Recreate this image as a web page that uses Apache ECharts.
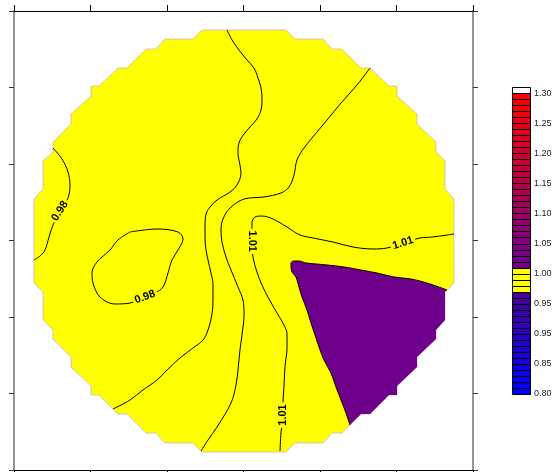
<!DOCTYPE html>
<html>
<head>
<meta charset="utf-8">
<script src="https://cdn.jsdelivr.net/npm/echarts@6/dist/echarts.min.js"></script>
<style>
html,body{margin:0;padding:0;background:#fff;}
#chart{width:555px;height:472px;}
</style>
</head>
<body>
<div id="chart"></div>
<script>
// ---- data (map units: 0..6 on both axes) ----
const boundary = [[2.458,5.752],[3.556,5.752],[3.673,5.634],[4.039,5.634],[4.157,5.503],[4.288,5.503],[4.536,5.255],[4.654,5.255],[4.902,5.020],[5.007,5.020],[5.007,4.889],[5.268,4.654],[5.268,4.523],[5.516,4.288],[5.516,4.157],[5.634,4.039],[5.634,3.673],[5.752,3.542],[5.752,2.444],[5.634,2.327],[5.634,1.961],[5.516,1.830],[5.516,1.712],[5.268,1.477],[5.268,1.346],[5.007,1.098],[5.007,0.980],[4.902,0.980],[4.654,0.732],[4.536,0.732],[4.288,0.484],[4.157,0.484],[4.039,0.353],[3.673,0.353],[3.556,0.235],[2.458,0.235],[2.340,0.353],[1.974,0.353],[1.856,0.484],[1.725,0.484],[1.477,0.732],[1.359,0.732],[1.111,0.980],[1.007,0.980],[1.007,1.098],[0.745,1.346],[0.745,1.477],[0.510,1.712],[0.510,1.830],[0.379,1.961],[0.379,2.327],[0.261,2.444],[0.261,3.542],[0.379,3.673],[0.379,4.039],[0.510,4.157],[0.510,4.288],[0.745,4.523],[0.745,4.654],[1.007,4.889],[1.007,5.020],[1.111,5.020],[1.359,5.255],[1.477,5.255],[1.725,5.503],[1.856,5.503],[1.974,5.634],[2.340,5.634]];

// contour 0.98 (left edge)
const contourA = [[0.510,4.209],[0.627,4.065],[0.706,3.895],[0.732,3.725],[0.706,3.556],[0.601,3.373],[0.510,3.203],[0.458,3.046],[0.405,2.876],[0.340,2.797],[0.261,2.745]];
// contour 0.98 (closed loop)
const contourB = [[1.516,3.111],[1.869,3.150],[2.144,3.111],[2.209,3.020],[2.144,2.876],[2.065,2.745],[2.013,2.575],[1.948,2.392],[1.843,2.314],[1.712,2.261],[1.516,2.183],[1.320,2.170],[1.124,2.261],[1.033,2.444],[1.020,2.575],[1.085,2.719],[1.255,2.876],[1.359,3.007],[1.516,3.111]];
// contour top -> lower left
const contourC = [[2.784,5.752],[2.850,5.621],[2.941,5.490],[3.046,5.359],[3.137,5.255],[3.190,5.124],[3.229,4.993],[3.242,4.863],[3.229,4.706],[3.176,4.588],[3.085,4.484],[3.007,4.392],[2.941,4.275],[2.928,4.144],[2.954,3.987],[2.967,3.882],[2.915,3.725],[2.824,3.634],[2.654,3.529],[2.562,3.438],[2.510,3.346],[2.497,3.190],[2.497,3.033],[2.510,2.876],[2.536,2.745],[2.575,2.575],[2.601,2.431],[2.601,2.222],[2.588,2.039],[2.536,1.830],[2.471,1.699],[2.340,1.595],[2.170,1.464],[2.000,1.307],[1.869,1.176],[1.686,1.046],[1.516,0.915],[1.294,0.797]];
// contour upper right -> bottom
const contourD = [[4.654,5.255],[4.484,5.033],[4.275,4.797],[4.092,4.575],[3.961,4.418],[3.791,4.209],[3.699,4.052],[3.660,3.856],[3.595,3.699],[3.490,3.621],[3.268,3.569],[3.007,3.542],[2.824,3.425],[2.732,3.281],[2.706,3.137],[2.719,2.980],[2.771,2.784],[2.837,2.614],[2.928,2.392],[2.993,2.222],[3.007,2.026],[2.980,1.765],[2.954,1.569],[2.928,1.307],[2.902,1.111],[2.837,0.876],[2.654,0.562],[2.536,0.392],[2.444,0.248]];
// contour 1.01
const contourE = [[5.752,3.085],[5.477,3.046],[5.307,3.033],[5.085,2.967],[4.876,2.902],[4.693,2.889],[4.431,2.915],[4.170,2.980],[3.908,3.033],[3.739,3.072],[3.569,3.176],[3.386,3.281],[3.242,3.320],[3.150,3.307],[3.111,3.229],[3.111,3.137],[3.111,2.980],[3.124,2.784],[3.176,2.588],[3.242,2.418],[3.320,2.261],[3.438,2.052],[3.529,1.895],[3.569,1.778],[3.569,1.608],[3.542,1.346],[3.529,1.085],[3.516,0.876],[3.516,0.719],[3.490,0.484],[3.477,0.248]];
// edge of the region above 1.01
const purpleEdge = [[5.660,2.353],[5.399,2.444],[5.190,2.497],[4.967,2.523],[4.745,2.575],[4.536,2.614],[4.314,2.654],[4.092,2.680],[3.948,2.693],[3.817,2.706],[3.725,2.732],[3.660,2.732],[3.621,2.706],[3.621,2.654],[3.634,2.588],[3.686,2.523],[3.725,2.392],[3.765,2.261],[3.830,2.092],[3.882,1.922],[3.935,1.765],[3.987,1.608],[4.052,1.438],[4.144,1.268],[4.209,1.085],[4.275,0.915],[4.340,0.745],[4.392,0.588]];

const labelPos = [[0.601,3.386],[1.712,2.261],[3.111,2.990],[5.085,2.967],[3.516,0.719]];
const labelText = ['0.98','0.98','1.01','1.01','1.01'];

// colour scale
const cbLevels = [0.80,0.81,0.82,0.83,0.84,0.85,0.86,0.87,0.88,0.89,0.90,0.91,0.92,0.93,0.94,0.95,0.96,0.97,0.98,0.99,1.00,1.01,1.02,1.03,1.04,1.05,1.06,1.07,1.08,1.09,1.10,1.11,1.12,1.13,1.14,1.15,1.16,1.17,1.18,1.19,1.20,1.21,1.22,1.23,1.24,1.25,1.26,1.27,1.28,1.29,1.30,1.31];
const cbTickLabels = ['0.80','0.85','0.95','0.95','1.00','1.05','1.10','1.15','1.20','1.25','1.30'];

// ---- styles ----
const labelAngles = [58, 20, -90, 18, 90];
const cbColors = ['#0000ff','#0400f8','#0900f2','#0d00eb','#1200e5','#1600de','#1b00d8','#1f00d1','#2400cb','#2800c4','#2d00bd','#3100b7','#3600b0','#3a00aa','#3f00a3','#43009d','#480096',
'#ffff00','#ffff00','#ffff00','#ffff00',
'#700090','#75008b','#7a0086','#7f0080','#84007b','#890076','#8f0071','#94006c','#990067','#9e0062','#a3005d','#a80057','#ad0052','#b2004d','#b70048','#bc0043','#c2003e','#c70039','#cc0033','#d1002e','#d60029','#db0024','#e0001f','#e5001a','#ea0015','#ef000f','#f5000a','#fa0005','#ff0000',
'#ffffff'];
const YELLOW = '#ffff00';
const PURPLE = '#6e008c';

const chart = echarts.init(document.getElementById('chart'), null, {renderer:'canvas'});

function polySeries(points, fill, stroke, lw, z){
  return {
    type:'custom', xAxisIndex:0, yAxisIndex:0, z:z, silent:true,
    data:[[0]],
    renderItem:function(params, api){
      return {type:'polygon', shape:{points: points.map(p => api.coord(p))},
              style:{fill: fill, stroke: stroke, lineWidth: lw}};
    }
  };
}
function lineSeries(points, z){
  return {type:'line', xAxisIndex:0, yAxisIndex:0, data: points, symbol:'none', smooth:0.35,
          z:z, silent:true, lineStyle:{color:'#000', width:1}};
}

const purplePoly = purpleEdge.concat(boundary.slice(19,30).reverse());
const cbData = cbLevels.slice(0,-1).map((lo,i)=>[lo, cbLevels[i+1], i]);

const axisCommon = {type:'value', min:0, max:6, interval:1, axisLabel:{show:false}, splitLine:{show:false}};

chart.setOption({
  animation:false,
  backgroundColor:'#ffffff',
  grid:[
    {left:14, top:11, width:459, height:459, outerBoundsMode:'none', containLabel:false},
    {left:512, top:87, width:18, height:307, outerBoundsMode:'none', containLabel:false}
  ],
  xAxis:[
    Object.assign({}, axisCommon, {gridIndex:0, position:'top',
      axisLine:{show:true, onZero:false, lineStyle:{color:'#000', width:1}},
      axisTick:{show:true, inside:false, length:6, lineStyle:{color:'#000'}}}),
    Object.assign({}, axisCommon, {gridIndex:0, position:'bottom',
      axisLine:{show:true, onZero:false, lineStyle:{color:'#000', width:1}},
      axisTick:{show:true, inside:false, length:6, lineStyle:{color:'#000'}}}),
    {gridIndex:1, type:'value', min:0, max:1, show:false}
  ],
  yAxis:[
    Object.assign({}, axisCommon, {gridIndex:0, position:'left',
      axisLine:{show:true, onZero:false, lineStyle:{color:'#7a7a7a', width:1.6}},
      axisTick:{show:true, inside:false, length:5, lineStyle:{color:'#333'}}}),
    Object.assign({}, axisCommon, {gridIndex:0, position:'right',
      axisLine:{show:true, onZero:false, lineStyle:{color:'#7a7a7a', width:1.6}},
      axisTick:{show:true, inside:false, length:5, lineStyle:{color:'#333'}}}),
    {gridIndex:1, type:'value', min:0.80, max:1.31, interval:0.05, position:'right',
      axisLine:{show:false}, axisTick:{show:false}, splitLine:{show:false},
      axisLabel:{show:true, margin:4, color:'#222', fontSize:9, fontFamily:'Liberation Sans, Arial, sans-serif',
        padding:[8,0,0,0],
        formatter:function(v){
          const idx = Math.round((v-0.80)/0.05);
          if (idx < 0 || idx >= cbTickLabels.length) return '';
          if (Math.abs(v-(0.80+idx*0.05)) > 1e-4) return '';
          return cbTickLabels[idx];
        }}}
  ],
  series:[
    polySeries(boundary, YELLOW, '#c9a6d6', 0.7, 1),
    polySeries(purplePoly, PURPLE, null, 0, 2),
    lineSeries(contourA, 3),
    lineSeries(contourB, 3),
    lineSeries(contourC, 3),
    lineSeries(contourD, 3),
    lineSeries(contourE, 3),
    lineSeries(purpleEdge, 3),
    {
      type:'custom', xAxisIndex:0, yAxisIndex:0, z:5, silent:true,
      data: labelPos,
      renderItem:function(params, api){
        const p = api.coord([api.value(0), api.value(1)]);
        const i = params.dataIndex;
        return {type:'text', x:p[0], y:p[1], rotation: labelAngles[i]*Math.PI/180,
          style:{text: labelText[i], fill:'#000', font:'bold 11px "Liberation Sans", Arial, sans-serif',
                 align:'center', verticalAlign:'middle', backgroundColor: YELLOW, padding:[0,2]}};
      }
    },
    {
      type:'custom', xAxisIndex:2, yAxisIndex:2, z:5, silent:true,
      data: cbData,
      renderItem:function(params, api){
        const p1 = api.coord([0, api.value(1)]);
        const p2 = api.coord([1, api.value(0)]);
        const x = Math.round(p1[0]) + 0.5, y = Math.round(p1[1]) + 0.5;
        const w = Math.round(p2[0]) - Math.round(p1[0]);
        const h = Math.round(p2[1]) - Math.round(p1[1]);
        return {type:'rect', shape:{x:x, y:y, width:w, height:h},
          style:{fill: cbColors[api.value(2)], stroke:'#000', lineWidth:1}};
      }
    }
  ]
});
</script>
</body>
</html>
